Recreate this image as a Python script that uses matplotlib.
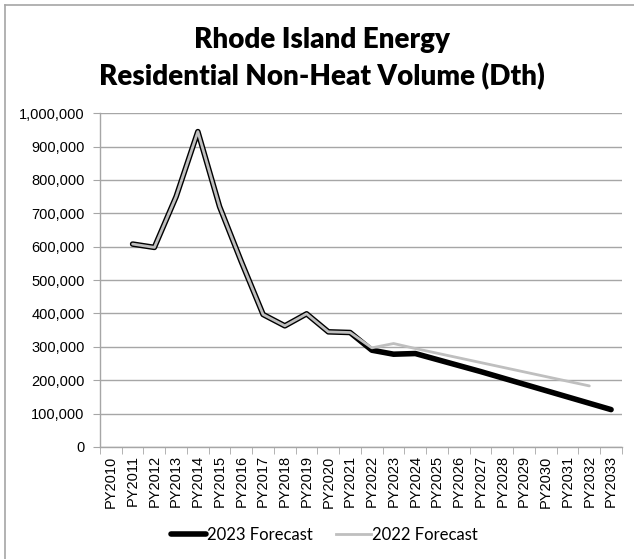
import matplotlib
matplotlib.use("Agg")
import matplotlib.pyplot as plt
import numpy as np
from matplotlib.lines import Line2D
from matplotlib.ticker import FuncFormatter, MultipleLocator

years = [f"PY{y}" for y in range(2010, 2034)]
history = [np.nan, 608000, 598000, 750000, 945000, 720000, 555000, 397000, 363000, 399000, 345000, 343000]
forecast_2023 = history + [290000, 278000, 280000, 262000, 244000, 226000, 207000, 188000, 169000, 150000, 131000, 112000]
forecast_2022 = history + [297000, 310000, 295000, 281000, 267000, 253000, 239000, 225000, 211000, 197000, 183000, np.nan]

fig = plt.figure(figsize=(6.34, 5.59), dpi=100)
ax = fig.add_axes([0.1577, 0.2004, 0.8233, 0.597])

x = np.arange(len(years))
ax.plot(x, forecast_2023, color="black", lw=4.0, solid_capstyle="round", solid_joinstyle="round", zorder=3)
ax.plot(x, forecast_2022, color="#BFBFBF", lw=2.0, solid_capstyle="round", solid_joinstyle="round", zorder=4)

ax.set_xlim(-0.5, len(years) - 0.5)
ax.set_ylim(0, 1000000)
ax.yaxis.set_major_locator(MultipleLocator(100000))
ax.yaxis.set_major_formatter(FuncFormatter(lambda v, p: f"{int(v):,}"))
ax.set_xticks(x)
ax.set_xticklabels(years, rotation=90, fontsize=10.5, family="Liberation Sans")
ax.set_xticks(np.arange(-0.5, len(years)), minor=True)
ax.tick_params(axis="x", which="major", length=0, pad=6)
ax.tick_params(axis="x", which="minor", length=5, color="#A6A6A6", direction="out")
ax.tick_params(axis="y", length=5, color="#A6A6A6", direction="out", pad=6)
for lab in ax.get_yticklabels():
    lab.set_fontsize(10.5)
    lab.set_family("Liberation Sans")

ax.grid(axis="y", color="#A6A6A6", lw=1.0)
ax.set_axisbelow(True)
for s in ["top", "right"]:
    ax.spines[s].set_visible(False)
for s in ["left", "bottom"]:
    ax.spines[s].set_color("#A6A6A6")
    ax.spines[s].set_linewidth(1.0)

fig.text(0.508, 1 - 48 / 559, "Rhode Island Energy", ha="center", va="baseline",
         fontsize=20, fontweight="heavy", family="Lato")
fig.text(0.508, 1 - 85 / 559, "Residential Non-Heat Volume (Dth)", ha="center", va="baseline",
         fontsize=20, fontweight="heavy", family="Lato")

handles = [Line2D([], [], color="black", lw=4.0, solid_capstyle="round"),
           Line2D([], [], color="#BFBFBF", lw=2.0)]
fig.legend(handles, ["2023 Forecast", "2022 Forecast"], loc="center", bbox_to_anchor=(0.512, 1 - 535 / 559),
           ncol=2, frameon=False, prop={"family": "Lato", "size": 12}, handlelength=2.1,
           handletextpad=0.05, columnspacing=1.4)

# chart border (left and top visible)
fig.add_artist(Line2D([0.008, 0.008], [0, 0.991], transform=fig.transFigure, color="#A6A6A6", lw=1.2))
fig.add_artist(Line2D([0.008, 1.0], [0.991, 0.991], transform=fig.transFigure, color="#A6A6A6", lw=1.2))

fig.savefig("out.png", dpi=100)
